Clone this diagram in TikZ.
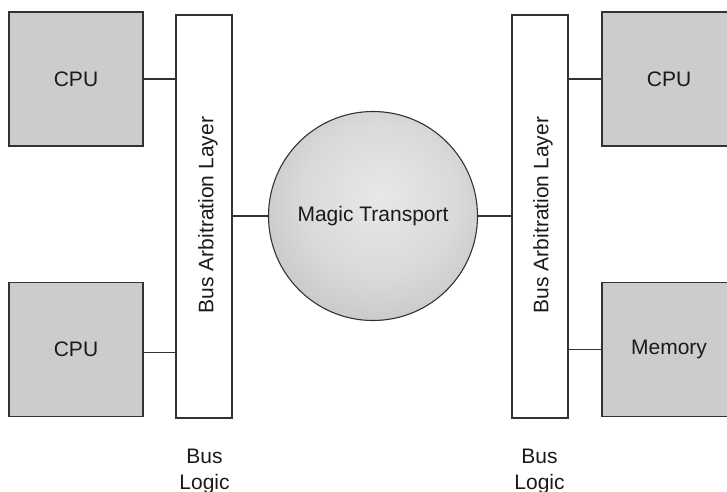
\documentclass[tikz,border=0pt]{standalone}
\usepackage{fontspec}
\setmainfont{Liberation Sans}
\usetikzlibrary{calc}

\definecolor{boxfill}{HTML}{CCCCCC}
\definecolor{edge}{HTML}{333333}
\definecolor{inktext}{HTML}{1A1A1A}
\definecolor{orbin}{HTML}{E8E8EA}
\definecolor{orbmid}{HTML}{DADADC}
\definecolor{orbout}{HTML}{AAAAAC}

% soft radial fill for the transport sphere
\pgfdeclareradialshading{orb}{\pgfpoint{2bp}{5bp}}{%
  color(0bp)=(orbin); color(18bp)=(orbmid); color(50bp)=(orbout); color(75bp)=(orbout)}

\tikzset{
  unit/.style={draw=edge, line width=1.1pt, fill=boxfill, minimum width=134pt,
    minimum height=134pt, inner sep=0pt, text=inktext},
  busbar/.style={draw=edge, line width=1.1pt, fill=white, minimum width=56pt,
    minimum height=403pt, inner sep=0pt},
  bartext/.style={rotate=90, anchor=base, inner sep=0pt, text=inktext},
  orbnode/.style={circle, draw=edge, line width=1.1pt, shading=orb,
    minimum size=209pt, inner sep=0pt, text=inktext},
  caption/.style={align=center, anchor=north, inner sep=0pt, text=inktext},
  wire/.style={draw=edge, line width=1.1pt},
}

\begin{document}
\begin{tikzpicture}[x=1pt, y=-1pt, font=\fontsize{21}{26}\selectfont]
  \useasboundingbox (0,0) rectangle (727,491);

  % processing units and memory
  \node[unit] (cpu1) at (76,79) {CPU};
  \node[unit] (cpu2) at (76,349.5) {CPU};
  \node[unit] (cpu3) at (669,79) {CPU};
  \node[unit] (mem)  at (669,349.5) {Memory};

  % arbitration bars
  \node[busbar] (lbar) at (204,216.5) {};
  \node[busbar] (rbar) at (540,216.5) {};
  \node[bartext] (ltext) at (213.3,215) {Bus Arbitration Layer};
  \node[bartext] (rtext) at (548.3,215) {Bus Arbitration Layer};

  % transport in the middle
  \node[orbnode] (circ) at (373,216) {Magic Transport};

  % captions under the bars
  \node[caption] (lcap) at (204.5,449) {Bus\\Logic};
  \node[caption] (rcap) at (539.5,449) {Bus\\Logic};

  % connectors
  \draw[wire] (cpu1.east) -- (cpu1.east -| lbar.west);
  \draw[wire] ([yshift=-3pt]cpu2.east) -- ([yshift=-3pt]cpu2.east -| lbar.west);
  \draw[wire] (lbar.east |- circ.west) -- (circ.west);
  \draw[wire] (circ.east) -- (circ.east -| rbar.west);
  \draw[wire] (rbar.east |- cpu3.west) -- (cpu3.west);
  \draw[wire] (rbar.east |- mem.west) -- (mem.west);
\end{tikzpicture}
\end{document}
